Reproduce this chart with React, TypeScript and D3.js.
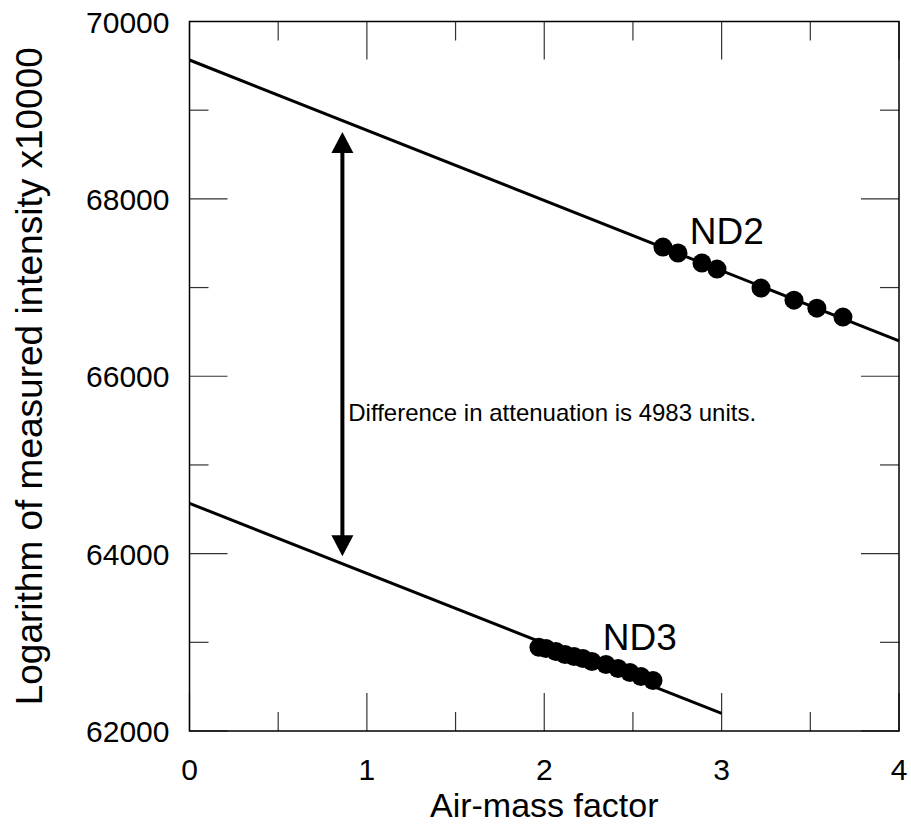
import React from "react";
import * as d3 from "d3";

// ---- data ----
const nd2X = [2.669, 2.754, 2.889, 2.974, 3.222, 3.408, 3.537, 3.684];
const nd2Y = [67456, 67389, 67276, 67208, 66994, 66858, 66768, 66667];
const nd3X = [1.97, 2.01, 2.066, 2.117, 2.168, 2.218, 2.269, 2.348, 2.416, 2.483, 2.545, 2.613];
const nd3Y = [62943, 62931, 62897, 62863, 62840, 62818, 62784, 62750, 62705, 62660, 62614, 62569];
const nd2Fit = [[0, 69566], [4, 66398]];
const nd3Fit = [[0, 64567], [3, 62198]];
const arrowX = 0.862;
const arrowY = [68753, 63969];
const xMajor = [0, 1, 2, 3, 4];
const xMinor = [0.5, 1.5, 2.5, 3.5];
const yMajor = [62000, 64000, 66000, 68000, 70000];
const yMinor = [63000, 65000, 67000, 69000];
const annotation = "Difference in attenuation is 4983 units.";

const W = 911, H = 825;
const L = 189.5, R = 899, T = 21.5, B = 731;
const FONT = "'Liberation Sans', Arial, Helvetica, sans-serif";

export default function App() {
  const x = d3.scaleLinear().domain([0, 4]).range([L, R]);
  const y = d3.scaleLinear().domain([62000, 70000]).range([B, T]);
  const line = d3.line<number[]>().x(d => x(d[0])).y(d => y(d[1]));
  const ax = x(arrowX);
  const yTop = y(arrowY[0]);
  const yBot = y(arrowY[1]);
  const hl = 21, hw = 11;
  const tickC = "#333";
  return (
    <svg width={W} height={H} style={{ position: "absolute", left: 0, top: 0, background: "#fff" }} fontFamily={FONT}>
      <rect x={0} y={0} width={W} height={H} fill="#fff" />
      {/* ticks */}
      {xMajor.map(v => (
        <g key={"xm" + v}>
          <line x1={x(v)} x2={x(v)} y1={B} y2={B - 38} stroke={tickC} strokeWidth={1.2} />
          <line x1={x(v)} x2={x(v)} y1={T} y2={T + 38} stroke={tickC} strokeWidth={1.2} />
          <text x={x(v)} y={B + 49} fontSize={30} textAnchor="middle">{v}</text>
        </g>
      ))}
      {xMinor.map(v => (
        <g key={"xn" + v}>
          <line x1={x(v)} x2={x(v)} y1={B} y2={B - 19} stroke={tickC} strokeWidth={1.2} />
          <line x1={x(v)} x2={x(v)} y1={T} y2={T + 19} stroke={tickC} strokeWidth={1.2} />
        </g>
      ))}
      {yMajor.map(v => (
        <g key={"ym" + v}>
          <line x1={L} x2={L + 38} y1={y(v)} y2={y(v)} stroke={tickC} strokeWidth={1.2} />
          <line x1={R} x2={R - 38} y1={y(v)} y2={y(v)} stroke={tickC} strokeWidth={1.2} />
          <text x={L - 20} y={y(v) + 11} fontSize={30} textAnchor="end">{v}</text>
        </g>
      ))}
      {yMinor.map(v => (
        <g key={"yn" + v}>
          <line x1={L} x2={L + 19} y1={y(v)} y2={y(v)} stroke={tickC} strokeWidth={1.2} />
          <line x1={R} x2={R - 19} y1={y(v)} y2={y(v)} stroke={tickC} strokeWidth={1.2} />
        </g>
      ))}
      <rect x={L} y={T} width={R - L} height={B - T} fill="none" stroke="#000" strokeWidth={1.5} />
      {/* fit lines */}
      <path d={line(nd2Fit as number[][]) || ""} stroke="#000" strokeWidth={3} fill="none" />
      <path d={line(nd3Fit as number[][]) || ""} stroke="#000" strokeWidth={3} fill="none" />
      {/* points */}
      {nd2X.map((v, i) => <circle key={"a" + i} cx={x(v)} cy={y(nd2Y[i])} r={9.5} fill="#000" />)}
      {nd3X.map((v, i) => <circle key={"b" + i} cx={x(v)} cy={y(nd3Y[i])} r={9.5} fill="#000" />)}
      {/* arrow */}
      <line x1={ax} x2={ax} y1={yTop + hl - 2} y2={yBot - hl + 2} stroke="#000" strokeWidth={4} />
      <polygon points={`${ax},${yTop} ${ax - hw},${yTop + hl} ${ax + hw},${yTop + hl}`} fill="#000" />
      <polygon points={`${ax},${yBot} ${ax - hw},${yBot - hl} ${ax + hw},${yBot - hl}`} fill="#000" />
      {/* labels */}
      <text x={x(2.82)} y={y(67490)} fontSize={37}>ND2</text>
      <text x={x(2.33)} y={y(62915)} fontSize={37}>ND3</text>
      <text x={x(0.895)} y={y(65490)} fontSize={24}>{annotation}</text>
      <text x={(L + R) / 2} y={817} fontSize={34} textAnchor="middle">Air-mass factor</text>
      <text transform={`translate(42,${(T + B) / 2}) rotate(-90)`} fontSize={37} textAnchor="middle">Logarithm of measured intensity x10000</text>
    </svg>
  );
}
